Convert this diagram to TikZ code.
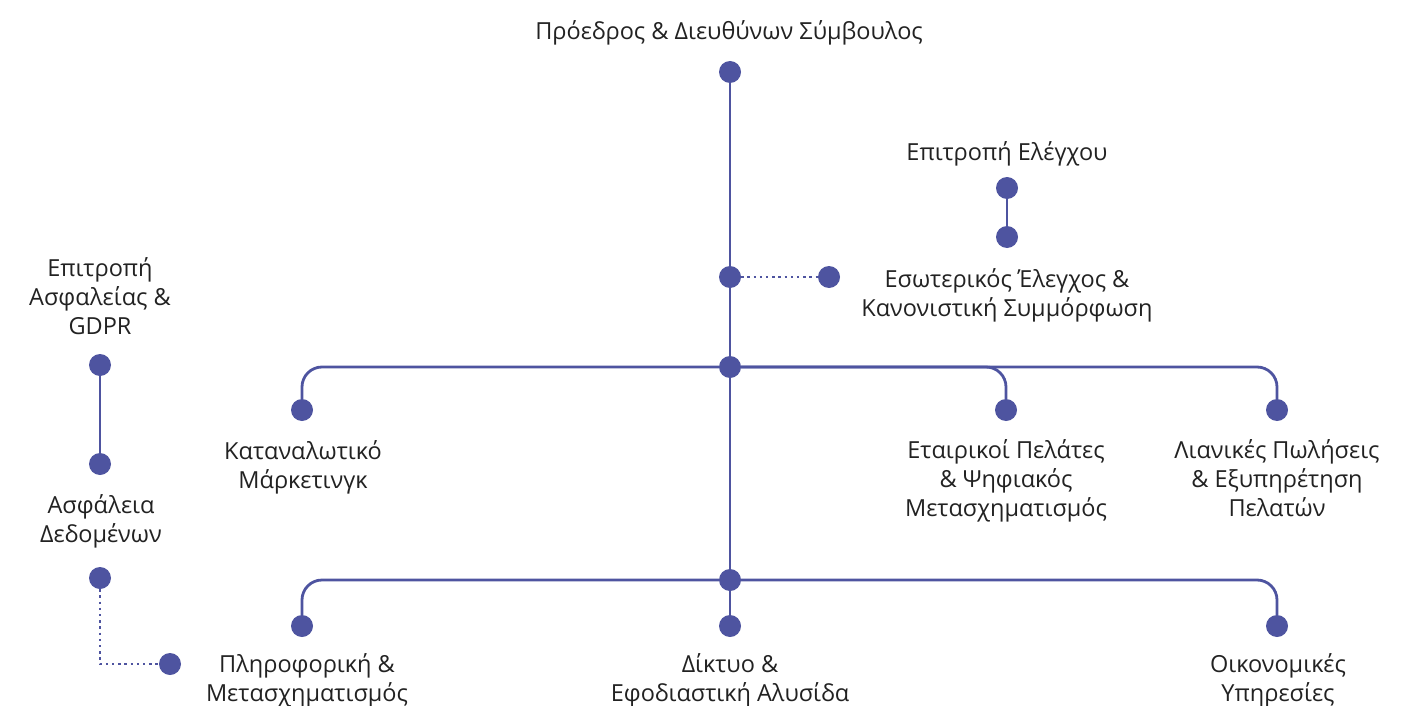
\documentclass[tikz,border=0pt]{standalone}
\usepackage{fontspec}
\setmainfont{Open Sans}
\usetikzlibrary{positioning}
\definecolor{orgblue}{HTML}{4E54A0}
\definecolor{orgtext}{HTML}{222222}

\begin{document}
\begin{tikzpicture}[x=1pt,y=-1pt,
  dot/.style={circle,fill=orgblue,inner sep=0pt,minimum size=22pt},
  solidlink/.style={draw=orgblue,line width=2.8pt},
  dottedlink/.style={draw=orgblue,line width=2.4pt,dash pattern=on 2.4pt off 3.8pt},
  lbl/.style={anchor=north,align=center,inner sep=0pt,text=orgtext,font=\fontsize{23.5}{29}\selectfont}]
\useasboundingbox (0,0) rectangle (1421,706);
% main spine
\node[dot] (ceo) at (730,72) {};
\node[dot] (icjoin) at (730,277) {};
\node[dot] (hubup) at (730,367) {};
\node[dot] (hubdown) at (730,580) {};
\node[dot] (net) at (730,626) {};
\node[lbl] (ceotxt) at (729,20) {Πρόεδρος \& Διευθύνων Σύμβουλος};
\draw[solidlink] (ceo) -- (icjoin) -- (hubup) -- (hubdown) -- (net);
% audit
\node[dot] (audit) at (1007,188) {};
\node[dot] (intctl) at (1007,237) {};
\node[dot] (icdot) at (829,277) {};
\node[lbl] (audittxt) at (1007,141) {Επιτροπή Ελέγχου};
\node[lbl] (intctltxt) at (1007,268) {Εσωτερικός Έλεγχος \&\\Κανονιστική Συμμόρφωση};
\draw[solidlink] (audit) -- (intctl);
\draw[dottedlink] (icjoin) -- (icdot);
% upper departments
\node[dot] (cons) at (302,410) {};
\node[dot] (corp) at (1006,410) {};
\node[dot] (retail) at (1277,410) {};
\node[lbl] (constxt) at (303,440) {Καταναλωτικό\\Μάρκετινγκ};
\node[lbl] (corptxt) at (1006,439) {Εταιρικοί Πελάτες\\\& Ψηφιακός\\Μετασχηματισμός};
\node[lbl] (retailtxt) at (1277,439) {Λιανικές Πωλήσεις\\\& Εξυπηρέτηση\\Πελατών};
\draw[solidlink,rounded corners=20pt] (hubup.west) -| (cons);
\draw[solidlink,rounded corners=20pt] (hubup.east) -| (corp);
\draw[solidlink,rounded corners=20pt] (hubup.east) -| (retail);
% lower departments
\node[dot] (it) at (302,626) {};
\node[dot] (fin) at (1277,626) {};
\node[lbl] (ittxt) at (307,653) {Πληροφορική \&\\Μετασχηματισμός};
\node[lbl] (nettxt) at (730,653) {Δίκτυο \&\\Εφοδιαστική Αλυσίδα};
\node[lbl] (fintxt) at (1278,653) {Οικονομικές\\Υπηρεσίες};
\draw[solidlink,rounded corners=20pt] (hubdown.west) -| (it);
\draw[solidlink,rounded corners=20pt] (hubdown.east) -| (fin);
% security
\node[dot] (seccom) at (100,365) {};
\node[dot] (secdata) at (100,464) {};
\node[dot] (secout) at (100,578) {};
\node[dot] (itlink) at (170,664) {};
\node[lbl] (seccomtxt) at (100,257) {Επιτροπή\\Ασφαλείας \&\\GDPR};
\node[lbl] (secdatatxt) at (101,494) {Ασφάλεια\\Δεδομένων};
\draw[solidlink] (seccom) -- (secdata);
\draw[dottedlink] (secout) |- (itlink);
\end{tikzpicture}
\end{document}
